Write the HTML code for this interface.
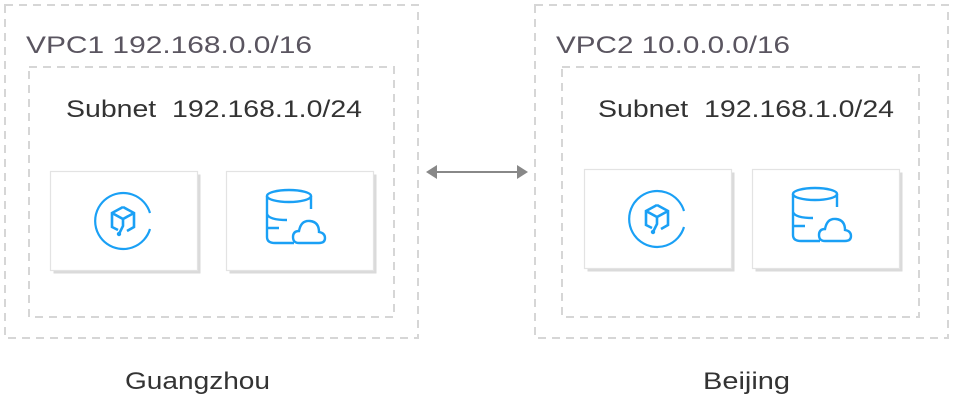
<!DOCTYPE html>
<html><head><style>
html,body{margin:0;padding:0;background:#fff;}
svg{display:block;font-family:"Liberation Sans",sans-serif;}
</style></head><body>
<svg width="954" height="404" viewBox="0 0 954 404" xmlns="http://www.w3.org/2000/svg">
<defs>
<g id="cvm" fill="none" stroke="#1aa0f5" stroke-width="2.2">
  <path d="M27 -8 A28 28 0 1 0 27 8"/>
  <path d="M0 -14 L11 -8 L11 6 L4 10 M0 -14 L-11 -8 L-11 6 L-5 9 M-11 -8 L0 -2 L11 -8 M0 -2 L0 5 L-4 13" stroke-width="2.6"/>
  <circle cx="-4" cy="13" r="2.2" fill="#1aa0f5" stroke="none"/>
</g>
<g id="db" fill="none" stroke="#1aa0f5" stroke-width="2.4">
  <ellipse cx="-8" cy="-21" rx="22" ry="6"/>
  <path d="M-30 -21 L-30 20 Q-30 26 -22 26 L-3 26 M14 -21 L14 -8 M-30 -3 Q-28 3 -10 3 M-30 11 L-18 11"/>
  <path d="M2 26 Q-4 26 -4 20 Q-4 14 2 14 Q4 3 13 4 Q22 5 22 15 Q28 16 28 21 Q28 26 22 26 Z"/>
</g>
<g id="card">
  <rect x="3.5" y="3.5" width="147" height="99" fill="#dadada"/>
  <rect x="0.5" y="0.5" width="147" height="99" fill="#fff" stroke="#e3e3e3" stroke-width="1.2"/>
</g>
</defs>
<g fill="none" stroke="#d6d6d6" stroke-width="2" stroke-dasharray="8 6">
  <rect x="5" y="5" width="413" height="333"/>
  <rect x="29" y="67" width="365" height="250"/>
  <rect x="535" y="5" width="413" height="333"/>
  <rect x="562" y="67" width="357" height="250"/>
</g>
<text x="26" y="53" font-size="24" fill="#5a5560" textLength="286" lengthAdjust="spacingAndGlyphs">VPC1 192.168.0.0/16</text>
<text x="556" y="53" font-size="24" fill="#5a5560" textLength="234" lengthAdjust="spacingAndGlyphs">VPC2 10.0.0.0/16</text>
<text x="66" y="117" font-size="24" fill="#333" textLength="296" lengthAdjust="spacingAndGlyphs">Subnet&#160; 192.168.1.0/24</text>
<text x="598" y="117" font-size="24" fill="#333" textLength="296" lengthAdjust="spacingAndGlyphs">Subnet&#160; 192.168.1.0/24</text>
<use href="#card" x="50" y="171"/>
<use href="#card" x="226" y="171"/>
<use href="#card" x="584" y="169"/>
<use href="#card" x="752" y="169"/>
<use href="#cvm" x="123" y="221"/>
<use href="#db" x="297" y="217"/>
<use href="#cvm" x="657" y="219"/>
<use href="#db" x="823" y="215"/>
<line x1="434" y1="172" x2="520" y2="172" stroke="#888" stroke-width="2"/>
<polygon points="426,172 437,165 437,179" fill="#888"/>
<polygon points="528,172 517,165 517,179" fill="#888"/>
<text x="125" y="389" font-size="24" fill="#333" textLength="145" lengthAdjust="spacingAndGlyphs">Guangzhou</text>
<text x="703" y="389" font-size="24" fill="#333" textLength="87" lengthAdjust="spacingAndGlyphs">Beijing</text>
</svg>
</body></html>
